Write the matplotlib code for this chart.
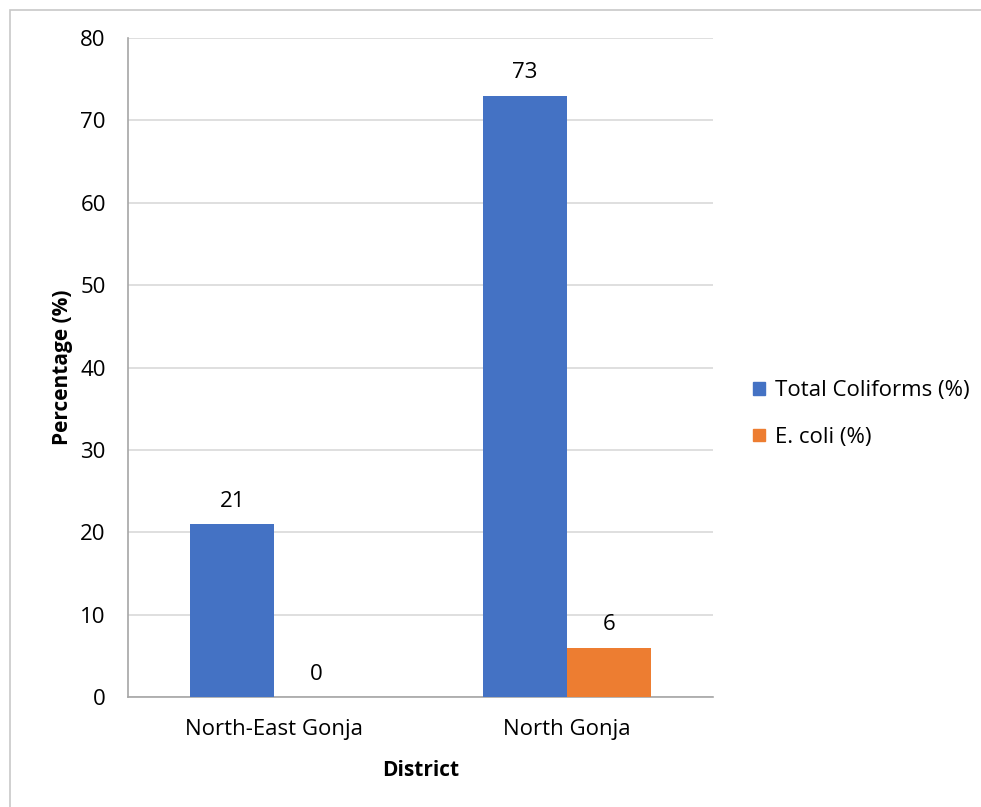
#!/usr/bin/env python3

import matplotlib.pyplot as plt
from matplotlib.patches import Rectangle, Patch
import numpy as np

plt.rcParams['font.family'] = ['Open Sans', 'DejaVu Sans']

districts = ["North-East Gonja", "North Gonja"]
total_coliforms = [21, 73]
e_coli = [0, 6]
series_names = ["Total Coliforms (%)", "E. coli (%)"]
colors = ["#4472C4", "#ED7D31"]

fig = plt.figure(figsize=(9.81, 8.07), dpi=100)
ax = fig.add_axes([0.1305, 0.1363, 0.5963, 0.8166])

# outer chart border (cropped on right/bottom like the original)
fig.patches.append(Rectangle((10 / 981, -0.1), 1.2, 1 - 10 / 807 + 0.1,
                             transform=fig.transFigure, fill=False,
                             edgecolor="#c8c8c8", linewidth=1.2))

x = np.arange(len(districts))
w = 0.287
b1 = ax.bar(x - w / 2, total_coliforms, w, color=colors[0], zorder=3)
b2 = ax.bar(x + w / 2, e_coli, w, color=colors[1], zorder=3)
for bars in (b1, b2):
    ax.bar_label(bars, padding=9, fontsize=16)

ax.set_xlim(-0.5, 1.5)
ax.set_ylim(0, 80)
ax.set_yticks(range(0, 81, 10))
ax.set_xticks(x)
ax.set_xticklabels(districts)
ax.tick_params(axis="both", length=0, labelsize=16)
ax.tick_params(axis="x", pad=16)
ax.tick_params(axis="y", pad=16)
ax.grid(axis="y", color="#d9d9d9", linewidth=1.2, zorder=0)
for side in ["top", "right"]:
    ax.spines[side].set_visible(False)
ax.spines["left"].set_color("#a6a6a6")
ax.spines["bottom"].set_color("#a6a6a6")
ax.spines["left"].set_linewidth(1.2)
ax.spines["bottom"].set_linewidth(1.2)

ax.set_ylabel("Percentage (%)", fontsize=15, fontweight="bold", labelpad=5)
ax.set_xlabel("District", fontsize=15, fontweight="bold", labelpad=14)

handles = [Patch(color=c) for c in colors]
fig.legend(handles, series_names, loc="center left",
           bbox_to_anchor=(0.768, 0.487), frameon=False, fontsize=16,
           handlelength=0.5, handleheight=0.5, handletextpad=0.45,
           labelspacing=1.15, borderpad=0, borderaxespad=0)

fig.savefig("out.png", dpi=100)
